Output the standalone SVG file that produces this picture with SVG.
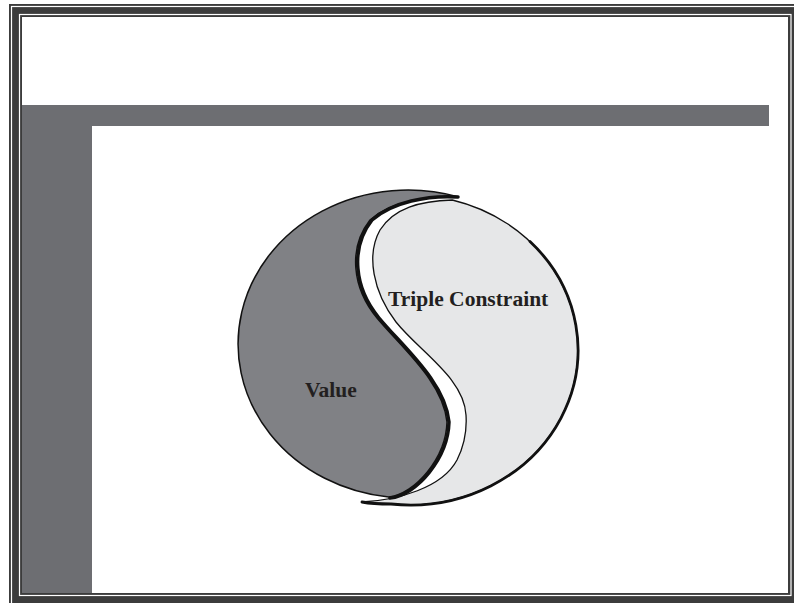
<svg xmlns="http://www.w3.org/2000/svg" width="794" height="603" viewBox="0 0 794 603">
<style>
.frame{fill:#3c3c3c}
.wline{fill:none;stroke:#ffffff;stroke-width:1.2}
.bar{fill:#6d6e72}
.lbl{font-family:"Liberation Serif","Times New Roman",serif;font-weight:bold;font-size:21.5px;fill:#231f20}
.edge{fill:none;stroke:#111111;stroke-linecap:round;stroke-linejoin:round}
</style>
<rect width="794" height="603" fill="#ffffff"/>
<g id="frame">
  <rect class="frame" x="9" y="4" width="790" height="605"/>
  <rect class="wline" x="11.5" y="6.5" width="790" height="605"/>
  <rect class="wline" x="19.5" y="14.5" width="771.5" height="581"/>
  <rect x="22" y="17" width="766" height="576" fill="#ffffff"/>
</g>
<g id="bars">
  <rect class="bar" x="22" y="105" width="747" height="21"/>
  <rect class="bar" x="22" y="105" width="70" height="488"/>
</g>
<g id="triple">
  <path d="M362 502 C398 500 442 488 457 460 C465 444 467 430 466 415 C464 378 420 352 396 322 C373 292 366 255 380 230 C394 208 420 201 452.3 200 A168 155 0 0 1 391 504 C380 504 370 503.5 362 502 Z" fill="#e6e7e8" stroke="#111" stroke-width="1.3"/>
  <path class="edge" stroke-width="2.8" d="M530 241.5 A168 155 0 0 1 391 504 C380 504 370 503.5 362 502"/>
  <text class="lbl" x="388" y="306">Triple Constraint</text>
</g>
<g id="value">
  <path d="M458.7 197 A170 154 0 1 0 388.6 497 C415 494 446 458 447 422 C443 382 402 348 377 318 C352 288 348 248 370 220 C390 202 428 195 458.7 197 Z" fill="#808185" stroke="#111" stroke-width="1.5"/>
  <path class="edge" stroke-width="3.5" d="M390 498 C417 495 448 458 449 422 C445 382 404 348 379 318 C354 288 350 248 372 220 C392 202 428 195 458 197"/>
  <text class="lbl" x="305" y="397">Value</text>
</g>
</svg>
